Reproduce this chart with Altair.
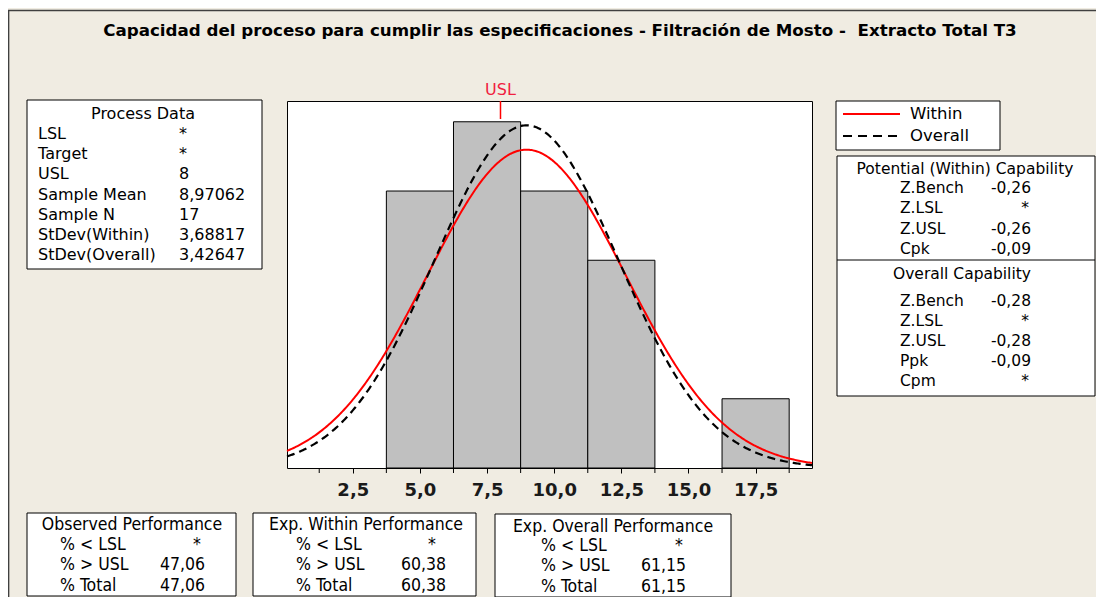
import altair as alt
import numpy as np
import pandas as pd

# ---------------- data ----------------
TITLE = "Capacidad del proceso para cumplir las especificaciones - Filtración de Mosto -\u00a0 Extracto Total T3"
bin_edges = [3.75, 6.25, 8.75, 11.25, 13.75, 16.25, 18.75]
bin_counts = [4, 5, 4, 3, 0, 1]
usl = 8.0
sample_mean = 8.97062
sample_n = 17
stdev_within = 3.68817
stdev_overall = 3.42647
major_ticks = [2.5, 5.0, 7.5, 10.0, 12.5, 15.0, 17.5]
minor_ticks = [1.25, 3.75, 6.25, 8.75, 11.25, 13.75, 16.25, 18.75]

process_labels = ["LSL", "Target", "USL", "Sample Mean", "Sample N", "StDev(Within)", "StDev(Overall)"]
process_values = ["*", "*", "8", "8,97062", "17", "3,68817", "3,42647"]
within_labels = ["Z.Bench", "Z.LSL", "Z.USL", "Cpk"]
within_values = ["-0,26", "*", "-0,26", "-0,09"]
overall_labels = ["Z.Bench", "Z.LSL", "Z.USL", "Ppk", "Cpm"]
overall_values = ["-0,28", "*", "-0,28", "-0,09", "*"]
perf_labels = ["% < LSL", "% > USL", "% Total"]
observed_values = ["*", "47,06", "47,06"]
exp_within_values = ["*", "60,38", "60,38"]
exp_overall_values = ["*", "61,15", "61,15"]

# ---------------- layout / style ----------------
X_MIN, X_MAX, Y_MAX = 0.05, 19.6, 5.3
PLOT_L, PLOT_T, PLOT_W, PLOT_H = 287, 101, 525, 367   # page px
TOTAL_W, TOTAL_H = 1088, 589
BEIGE = "#f0ece2"
RED = "#ff0000"
VERD = "DejaVu Sans"
TAHO = "DejaVu Sans Condensed"


def gx(px):
    return px - PLOT_L


def gy(py):
    return py - PLOT_T


one = pd.DataFrame({"k": [0]})

# ---------------- histogram & fits ----------------
bars_df = pd.DataFrame({"start": bin_edges[:-1], "end": bin_edges[1:], "count": bin_counts})
bars_df = bars_df[bars_df["count"] > 0]

bin_w = bin_edges[1] - bin_edges[0]
xs = np.linspace(X_MIN, X_MAX, 400)


def fit(sd):
    return sample_n * bin_w * np.exp(-0.5 * ((xs - sample_mean) / sd) ** 2) / (sd * np.sqrt(2 * np.pi))


within_df = pd.DataFrame({"x": xs, "y": fit(stdev_within)})
overall_df = pd.DataFrame({"x": xs, "y": fit(stdev_overall)})
minor_df = pd.DataFrame({"t": minor_ticks})

xscale = alt.Scale(domain=[X_MIN, X_MAX], nice=False, zero=False)
yscale = alt.Scale(domain=[0, Y_MAX], nice=False, zero=True)
xaxis = alt.Axis(
    values=major_ticks, format=".1f",
    labelExpr="replace(datum.label, '.', ',')",
    title=None, grid=False, domain=False, tickSize=5, tickColor="black", tickWidth=1,
    labelFont=VERD, labelFontSize=18, labelFontWeight="bold", labelColor="#1a1a1a",
    labelPadding=8, labelFlush=False,
)

bars = alt.Chart(bars_df).mark_rect(fill="#c0c0c0", stroke="black", strokeWidth=1).encode(
    x=alt.X("start:Q", scale=xscale, axis=xaxis),
    x2="end:Q",
    y=alt.Y("count:Q", scale=yscale, axis=None),
    y2=alt.datum(0),
)
minor = alt.Chart(minor_df).mark_rule(color="black", strokeWidth=1).encode(
    x=alt.X("t:Q", title=None), y=alt.value(PLOT_H), y2=alt.value(PLOT_H + 5)
)
within_line = alt.Chart(within_df).mark_line(color=RED, strokeWidth=2).encode(
    x=alt.X("x:Q", title=None), y=alt.Y("y:Q", title=None)
)
overall_line = alt.Chart(overall_df).mark_line(color="black", strokeWidth=2.2, strokeDash=[8, 5]).encode(
    x=alt.X("x:Q", title=None), y=alt.Y("y:Q", title=None)
)
usl_rule = alt.Chart(one).mark_rule(color=RED, strokeWidth=1.5).encode(
    x=alt.datum(usl), y=alt.value(0), y2=alt.value(18)
)
usl_text = alt.Chart(one).mark_text(color="#f02040", fontSize=16, font=VERD, baseline="middle").encode(
    x=alt.datum(usl), y=alt.value(gy(89.5)), text=alt.value("USL")
)

layers = []


def rect(x1, y1, x2, y2, fill="white", stroke="black", sw=1):
    layers.append(
        alt.Chart(one).mark_rect(fill=fill, stroke=stroke, strokeWidth=sw).encode(
            x=alt.value(gx(x1)), x2=alt.value(gx(x2)), y=alt.value(gy(y1)), y2=alt.value(gy(y2))
        )
    )


def hline(x1, x2, y, color="black", sw=1, dash=None):
    kw = dict(color=color, strokeWidth=sw)
    if dash:
        kw["strokeDash"] = dash
    layers.append(
        alt.Chart(one).mark_rule(**kw).encode(x=alt.value(gx(x1)), x2=alt.value(gx(x2)), y=alt.value(gy(y)))
    )


def vline(x, y1, y2, color="black", sw=1):
    layers.append(
        alt.Chart(one).mark_rule(color=color, strokeWidth=sw).encode(
            x=alt.value(gx(x)), y=alt.value(gy(y1)), y2=alt.value(gy(y2))
        )
    )


def text(s, x, y, align="left", size=16, font=VERD, weight="normal", color="black"):
    layers.append(
        alt.Chart(one).mark_text(
            align=align, baseline="middle", fontSize=size, font=font, fontWeight=weight, color=color,
        ).encode(x=alt.value(gx(x)), y=alt.value(gy(y)), text=alt.value(s))
    )


def rows(lines, x, y_first, lh, align="left", size=16, font=VERD):
    for i, s in enumerate(lines):
        text(s, x, y_first + i * lh, align, size, font)


def value_rows(vals, x_right, x_star, y_first, lh, size, font):
    for i, v in enumerate(vals):
        if v == "*":
            text(v, x_star, y_first + i * lh, "center", size, font)
        else:
            text(v, x_right, y_first + i * lh, "right", size, font)


# frame lines of the window
hline(8, 1104, 10.5, color="#404040", sw=1.5)
vline(8.6, 10, 600, color="#404040", sw=1.5)

# title
text(TITLE, 560, 30.5, size=16.7, font=VERD, weight="bold", align="center")

# Process Data box
rect(27, 100, 262, 269)
text("Process Data", 143, 114, size=16, align="center")
rows(process_labels, 38, 134, 20.2, size=16)
rows(process_values, 179, 134, 20.2, size=16)

# legend box
rect(836, 101, 1000, 150)
hline(843, 900, 114, color=RED, sw=2)
hline(843, 900, 136, color="black", sw=2, dash=[9, 6])
text("Within", 910, 114, size=16.5)
text("Overall", 910, 136, size=16.5)

# capability box
rect(837, 156, 1095, 396)
hline(837, 1095, 260)
text("Potential (Within) Capability", 965, 169, size=15.5, align="center")
rows(within_labels, 900, 188, 20.4, size=15.5)
value_rows(within_values, 1031, 1025, 188, 20.4, 15.5, VERD)
text("Overall Capability", 962, 274, size=15.5, align="center")
rows(overall_labels, 900, 301, 20, size=15.5)
value_rows(overall_values, 1031, 1025, 301, 20, 15.5, VERD)

# bottom performance boxes
boxes = [
    ("Observed Performance", observed_values, 27, 236, 513, 596, 132, 525, 60, 205, 197, 545),
    ("Exp. Within Performance", exp_within_values, 253, 476, 513, 596, 366, 525, 296, 446, 432, 545),
    ("Exp. Overall Performance", exp_overall_values, 495, 731, 514, 597, 613, 527, 541, 686, 679, 546),
]
for title, vals, x1, x2, y1, y2, hx, hy, lx, vx, sx, ry in boxes:
    rect(x1, y1, x2, y2)
    text(title, hx, hy, size=17.5, font=TAHO, align="center")
    rows(perf_labels, lx, ry, 20.3, size=17.5, font=TAHO)
    value_rows(vals, vx, sx, ry, 20.3, 17.5, TAHO)

chart = alt.layer(
    bars, minor, within_line, overall_line, usl_rule, usl_text, *layers
).properties(
    width=PLOT_W,
    height=PLOT_H,
    background=BEIGE,
    padding={"left": PLOT_L - 8, "top": PLOT_T - 8,
             "right": TOTAL_W - (PLOT_L - 8) - PLOT_W,
             "bottom": TOTAL_H - (PLOT_T - 8) - PLOT_H},
    autosize=alt.AutoSizeParams(type="none"),
).configure_view(stroke="black", strokeWidth=1, fill="white")

chart.save("out.html", embed_options={"renderer": "svg", "actions": False})
